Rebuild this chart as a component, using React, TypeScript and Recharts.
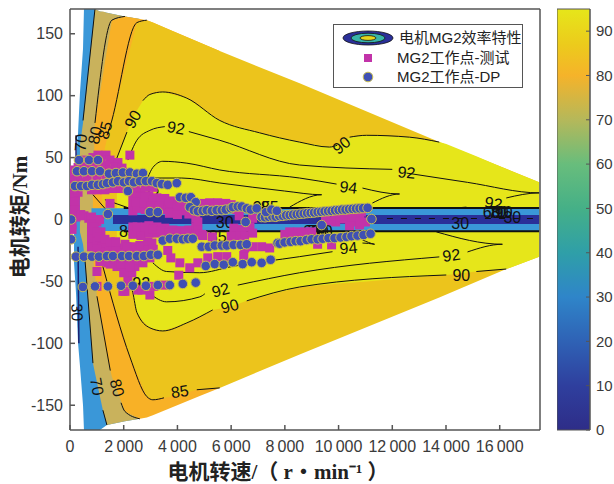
import {
  Area,
  Bar,
  ComposedChart,
  Legend,
  Line,
  Scatter,
  XAxis,
  YAxis
} from "recharts";

// filled bands, each row is [speed, lower torque, upper torque]
const blueBand = [
  [150, -35, 40], [225, -60, 48], [300, -100, 70], [370, -118, 102], [485, -150, 138],
  [520, -170, 170], [930, -170, 170], [1115, -170, 168], [1375, -166, 167], [2045, -163, 164],
  [2600, -161, 162]
];
const khakiBand = [
  [370, -10, 60], [485, -20, 78], [560, -33, 93], [635, -55, 108], [855, -116, 154],
  [930, -124, 170], [1115, -143, 168], [1225, -154, 168], [1375, -166, 167], [2045, -163, 164],
  [2600, -161, 162]
];
const orangeBand = [
  [855, -30, 24], [930, -45, 78], [1004, -62, 88], [1115, -75, 102], [1300, -102, 127],
  [1560, -127, 161], [2045, -155, 164], [2600, -161, 162], [2860, -160, 161], [3085, -158, 159],
  [4830, -142.6, 143], [5575, -136, 136]
];
const amberBand = [
  [1190, -30, 24], [1225, -38, 35], [1300, -45, 58], [1490, -57, 75], [2230, -111, 137],
  [2490, -124, 159], [2860, -143, 161], [3085, -145.6, 159], [3790, -143, 152.5], [4720, -137.5, 144],
  [5575, -136, 136], [8550, -109, 110], [13750, -63, 62.5], [16245, -40, 41], [17470, -30, 30]
];
const yellowBand = [
  [1745, -30, 49.6], [2120, -50, 70.6], [2340, -59, 82], [2490, -75, 88], [2715, -82, 96],
  [2975, -87.5, 101], [3455, -90, 103], [4350, -83.5, 98], [5315, -73, 84], [5575, -72, 80],
  [5950, -70.6, 77], [6580, -65.7, 73], [7060, -63, 70], [8550, -54.5, 62.5], [9660, -52.5, 58.5],
  [10110, -51.5, 61], [10410, -51, 66.5], [11040, -50, 68], [12640, -47, 66.5], [13750, -45, 62.5],
  [14010, -44.8, 61], [15130, -42, 51], [16245, -40, 40.7], [17470, -30, 30]
];
const stripBlue = [[800, -9.2, 9], [17470, -9.2, 9]];
const stripNavy = [[1600, -3.6, 3.6], [17470, -3.6, 3.6]];

// contour lines, split where a label sits on them
const contourLines = [
  [[930, 170], [485, 80]],
  [[560, -33], [855, -116]],
  [[1225, -154], [1375, -166]],
  [[2045, 164], [1560, 161], [930, 78]],
  [[1004, -62], [1500, -122]],
  [[1900, -148], [2045, -155], [2600, -161]],
  [[2860, 161], [2490, 159], [1490, 75], [1380, 68]],
  [[1225, -38], [2230, -111], [2860, -143], [3085, -145.6], [3500, -144]],
  [[4720, -137.5], [5575, -136]],
  [[1745, 49.6], [2120, 70.6]],
  [[2715, 96], [2975, 101], [3455, 103], [4350, 98], [5575, 80], [7060, 70], [8550, 62.5], [9660, 58.5], [9950, 60]],
  [[10410, 66.5], [11040, 68], [12640, 66.5], [13750, 62.5]],
  [[1860, -34], [2340, -59], [2490, -75], [2975, -87.5], [3455, -90], [4350, -83.5], [5315, -73]],
  [[6580, -65.7], [8550, -54.5], [14010, -44.8]],
  [[15130, -42], [16245, -40]],
  [[2155, 48], [2490, 64], [2975, 72], [3530, 75]],
  [[4425, 71], [5575, 64], [8550, 44], [12000, 40.5]],
  [[12530, 37.5], [14800, 30], [17470, 21.5], [16245, 17.4]],
  [[14760, 10], [14200, 9]],
  [[2900, 34], [3085, 42], [3455, 47], [4350, 45.5], [5575, 40], [8550, 33.5], [9925, 28.6]],
  [[10890, 25.4], [12270, 20.6], [11260, 13.3]],
  [[2975, 33.5], [4160, 33.5], [5575, 29.5], [7990, 23], [9370, 20], [8180, 10]],
  [[2975, -60], [3600, -66.5], [4830, -62.5], [5020, -60]],
  [[6245, -53], [8550, -43], [13750, -30.2]],
  [[14800, -26.2], [16100, -20], [13640, -10]],
  [[3085, -35], [3600, -42], [4830, -43], [6020, -38], [8550, -30], [9775, -26]],
  [[10890, -19], [11340, -20], [10890, -16.5]],
  [[855, 20], [1300, 9]],
  [[1300, 16], [2230, 9]]
];
const stripLines = [
  [[2000, 9.3], [17470, 9.3]],
  [[2000, -9.4], [17470, -9.4]]
];
const navyEdges = [
  [[300, -22], [330, -100]],
  [[225, 50], [225, 68]]
];
const dashedCentre = [[11800, 0.8], [17470, 0.8]];

// [speed, torque, text, rotation]
const contourLabels = [
  [400, 62, "70", -85], [930, 68, "80", -80], [1300, 72, "85", -75], [2340, 81, "90", -60],
  [3950, 74, "92", 10], [10110, 60, "90", -40], [12530, 38, "92", 5], [10370, 26, "94", 7],
  [15770, 13, "92", 10], [10370, -23, "94", -5], [14200, -29, "92", -8], [14570, -45, "90", 0],
  [14530, -3.6, "30", 0], [16470, 2, "30", 0], [5760, -2.8, "30", 0], [260, -75, "30", 88],
  [1004, -135, "70", 80], [1750, -136, "80", 75], [4090, -139, "85", -8], [5950, -70, "90", -15],
  [5610, -57, "92", -15], [2155, -10, "85", 0], [5500, -14, "85", 0], [7435, 10, "85", 0],
  [7135, 10, "95", 0], [15700, 6, "60", 0], [15900, 6, "70", 0], [16000, 6, "80", 0],
  [16150, 6, "90", 0], [9000, -10, "60", 0], [9150, -10, "70", 0], [9300, -10, "80", 0],
  [9450, -10, "90", 0], [2650, -52, "92", 0], [3000, 20, "92", 0]
];

// MG2 operating points, test
const testPoints = [
  [1040, 52], [1340, 52], [855, 50], [560, 48], [1150, 48], [1490, 48], [1785, 46], [1340, 44],
  [1670, 42], [1935, 41.5], [2080, 38], [2230, 52], [300, 42], [560, 42], [860, 43], [300, 34],
  [640, 34], [1000, 34], [1340, 34], [1700, 33], [2100, 30], [2400, 31], [75, 40], [75, 33],
  [75, 26], [75, 20], [75, 14], [75, 8], [75, 2], [75, -4], [75, -8], [200, 20], [300, 22],
  [200, 14], [200, 8], [225, 2], [400, 4], [520, 3], [700, 1], [800, 2], [1000, -2], [1100, 0],
  [1490, 13], [800, -4], [800, -10], [800, -16], [800, -22], [1000, -18], [1150, -10], [1200, -22],
  [1400, -22], [1600, -24], [1700, -22], [2000, -23], [2045, -20], [2300, -22], [2490, -25], [2600, -21],
  [2650, -22], [2900, -18], [2900, -20], [1100, -26], [1410, -35], [1750, -38], [2045, -41], [2300, -43],
  [2415, -38], [2715, -35], [2975, -31], [2155, -50], [1970, -58], [2530, -57], [2975, -61], [3120, -54],
  [3530, -53], [1004, -54], [1004, -42], [1860, -34], [1115, -34], [1600, -35], [2155, -34], [2045, -58],
  [2676, -57], [3640, -25], [3755, -31], [4090, -35], [4460, -39], [4050, -45], [4760, -35], [5130, -31],
  [5500, -30], [5835, -30], [6470, -29], [6505, -23], [6800, -22], [7135, -22], [7435, -23], [3050, -19],
  [2120, -22], [2340, 20], [2340, 13], [2340, 7], [2340, -6], [2340, -12], [2640, 22], [2640, 16],
  [2640, 11], [2640, -8], [2640, -13], [2935, 19], [2935, 14], [2935, -5], [2935, -11], [3235, 17.5],
  [3235, 13], [3235, -6], [3235, -11], [3530, 17], [3530, 12], [3530, -7], [3530, -11], [3830, 15],
  [3830, 9], [3830, -8.5], [3830, -12], [4125, 12.5], [4125, 7], [4125, -9], [4125, -13], [4425, 11],
  [4425, 4.4], [4425, -8.5], [4425, -13], [4685, 7], [4685, 1], [4685, -6], [4685, -12], [4760, -2],
  [4760, -8.5], [4900, -12], [4905, 13], [5200, 13.5], [5500, 13.5], [5800, 13], [6000, 12], [6100, -7],
  [6400, -8], [6700, -6], [6200, -13], [6500, -13], [6000, -13.5], [6800, -11], [6300, 3], [6800, 1],
  [4950, -13], [5300, -14], [8180, -10], [8475, -10], [8770, -10], [9890, -2], [10185, 0.4], [10480, -2],
  [10780, 1], [11000, -2], [10780, -4.4], [10410, -5], [9220, -20], [9740, -20.5], [10035, 4.4], [10480, 5],
  [10850, 6], [9515, 0], [860, 46], [1150, 42], [1500, 40], [1800, 38], [1100, 38], [1400, 36],
  [1900, 34], [2200, 35], [2500, 33], [300, 28], [600, 30], [800, 24], [1000, 24], [1300, 24],
  [1600, 25], [1900, 25], [2150, 26], [2450, 26], [2800, 26], [3100, 26], [2500, 18], [2800, 18],
  [3100, 16], [3400, 15], [3700, 13], [4000, 10], [4300, 8], [2500, 9], [2800, 8], [3100, 8],
  [3400, 8], [3700, 5], [4000, 4], [2500, -6], [2800, -6], [3100, -8], [3400, -9], [3700, -11],
  [4000, -11], [4300, -11], [900, -6], [1000, -10], [1100, -14], [1300, -16], [1500, -18], [1700, -18],
  [1000, -24], [1300, -27], [1700, -27], [2100, -27], [2500, -27], [2900, -25], [3100, -24], [1300, -33],
  [1500, -36], [1900, -36], [2200, -37], [2400, -33], [2700, -32], [2000, -43], [2250, -38], [9900, 2],
  [10200, 3], [10500, 2], [10800, -2], [9700, -1], [8000, -12], [8300, -12], [8600, -12], [9000, -10],
  [5000, 9], [5400, 10], [5800, 9], [6200, 8], [2450, 14], [2750, 13], [3000, 11], [3300, 11]
];

// MG2 operating points, DP
const dpPoints = [
  [335, 48], [706, 48], [1040, 48], [260, 39], [520, 39], [820, 39], [1115, 39], [1450, 37],
  [1710, 37.5], [1970, 38], [2230, 38], [2490, 37], [2715, 37.5], [185, 27], [410, 27], [630, 27],
  [820, 28], [1040, 28], [1225, 28.6], [1375, 29.4], [1600, 30], [1785, 31], [2005, 30], [2195, 31],
  [2380, 30], [2600, 31], [2825, 31], [3050, 31], [3230, 29.4], [3420, 28.6], [3640, 28], [3975, 29.4],
  [2155, 23], [4090, 18], [4310, 17.5], [4500, 18], [4680, 14], [4460, 10], [4610, 7.5], [4760, 6.7],
  [4940, 7], [5090, 7.5], [5280, 7], [5460, 7.5], [5650, 7.5], [5800, 8], [5985, 9], [6060, 10],
  [6245, 10.5], [6395, 10.5], [6580, 9], [6730, 8], [6950, 9], [7130, 2], [7260, 1.8], [7400, 2.2],
  [7530, 2.5], [7660, 2.2], [7790, 2.8], [7920, 3], [8050, 3.4], [8180, 3.6], [8310, 4], [8440, 4.2],
  [8570, 4.6], [8700, 4.8], [8830, 5.2], [8960, 5.4], [9090, 5.6], [9220, 6], [9350, 6.2], [9480, 6.6],
  [9610, 6.8], [9740, 7], [9870, 7.4], [10000, 7.6], [10130, 8], [10260, 8], [10390, 8.4], [10520, 8.6],
  [10650, 8.8], [10780, 9], [10910, 9.2], [11080, 9.4], [7300, 6], [7500, 8], [7700, 7], [40, 0],
  [40, -16], [1410, 4.4], [2975, 6], [3270, 6], [6540, -2], [9370, -4.5], [11225, 0.4], [3455, -17],
  [3715, -15.5], [3975, -15.5], [4200, -16], [4385, -15.5], [4570, -15.5], [4905, -22], [5165, -22], [5390, -21],
  [5650, -21], [5835, -21], [6095, -20.5], [6355, -20.5], [6580, -20], [7730, -19], [7805, -19.5], [7990, -18.5],
  [8215, -18], [8400, -17.5], [8585, -17.5], [8810, -16.5], [8995, -16], [9220, -16], [9405, -15.5], [9625, -15],
  [9850, -15], [10075, -14.5], [10295, -14], [10480, -13.5], [10705, -13], [10930, -12.5], [11190, -11.5], [220, -30],
  [520, -30], [820, -30], [1075, -30], [1375, -29.5], [1600, -29.5], [1935, -29.5], [2195, -29.5], [2490, -29.5],
  [2750, -29.5], [3010, -28.5], [3270, -28.5], [5055, -37.5], [5390, -36], [5725, -36.5], [6060, -34.5], [6430, -36],
  [6765, -34.5], [7135, -35], [7470, -32.5], [480, -54.5], [930, -54], [1410, -54], [1900, -53.5], [2340, -53.5],
  [2825, -53.5], [3270, -53], [3715, -53], [4200, -52], [4680, -51]
];

const speedTicks = [0, 2000, 4000, 6000, 8000, 10000, 12000, 14000, 16000];
const torqueTicks = [-150, -100, -50, 0, 50, 100, 150];
const colorbarTicks = [0, 10, 20, 30, 40, 50, 60, 70, 80, 90];
const colorbarStops = [
  [0, "#2e2d88"], [10, "#2f3f9e"], [20, "#2f62b5"], [30, "#2f85c9"], [40, "#2f9fa8"],
  [50, "#45b087"], [60, "#68bd7c"], [70, "#b5b85a"], [80, "#f5b32a"], [87, "#eccb1c"], [95, "#e6e61a"]
];
const legendItems = ["电机MG2效率特性", "MG2工作点-测试", "MG2工作点-DP"];

const SANS = '"Liberation Sans", "Noto Sans CJK SC", sans-serif';
const SERIF = '"Liberation Serif", "Noto Sans CJK SC", serif';
const AXIS_COLOR = "#555555";
const TICK_COLOR = "#3a3a3a";
const MAGENTA = "#c233a9";
const DP_BLUE = "#3f50b4";
const DP_EDGE = "#c9bd4e";

const toBand = (rows: number[][]) => rows.map(([x, lo, hi]) => ({ x, range: [lo, hi] }));
const toPoints = (rows: number[][]) => rows.map(([x, y]) => ({ x, y }));

const formatSpeed = (v: number) =>
  v >= 1000 ? `${Math.floor(v / 1000)}\u2009${String(v % 1000).padStart(3, "0")}` : String(v);

function band(rows: number[][], fill: string, key: string) {
  return (
    <Area
      key={key}
      data={toBand(rows)}
      dataKey="range"
      type="linear"
      fill={fill}
      fillOpacity={1}
      stroke="none"
      dot={false}
      activeDot={false}
      isAnimationActive={false}
      legendType="none"
    />
  );
}

function contour(rows: number[][], key: string, color = "#111111", width = 1, dash?: string) {
  return (
    <Line
      key={key}
      data={toPoints(rows)}
      dataKey="y"
      type="monotoneX"
      stroke={color}
      strokeWidth={width}
      strokeDasharray={dash}
      dot={false}
      activeDot={false}
      isAnimationActive={false}
      legendType="none"
    />
  );
}

function ContourLabel(p: any) {
  const { text, angle } = p.payload;
  return (
    <text
      x={p.cx}
      y={p.cy}
      dy={5.5}
      textAnchor="middle"
      fontFamily={SANS}
      fontSize={16}
      fill="#111111"
      transform={`rotate(${angle} ${p.cx} ${p.cy})`}
    >
      {text}
    </text>
  );
}

function LegendBox() {
  const row = { position: "absolute", whiteSpace: "nowrap", lineHeight: "20px" } as const;
  return (
    <div
      style={{
        position: "relative",
        width: 190,
        height: 64,
        background: "#ffffff",
        border: `1px solid ${AXIS_COLOR}`,
        boxSizing: "border-box",
        fontFamily: SANS,
        fontSize: 15,
        color: "#222222"
      }}
    >
      <svg width={190} height={64} style={{ position: "absolute", left: 0, top: 0 }}>
        <ellipse cx={34} cy={13} rx={25} ry={7} fill="#2a2f99" stroke="#111111" strokeWidth={0.8} />
        <ellipse cx={34} cy={13} rx={17} ry={4.8} fill="#38b5a8" stroke="#111111" strokeWidth={0.8} />
        <ellipse cx={34} cy={13} rx={8} ry={2.4} fill="#e6d61a" stroke="#111111" strokeWidth={0.8} />
        <rect x={30} y={29} width={8} height={8} fill={MAGENTA} />
        <circle cx={34} cy={52} r={4.8} fill={DP_BLUE} stroke={DP_EDGE} />
      </svg>
      <span style={{ ...row, left: 65, top: 3 }}>{legendItems[0]}</span>
      <span style={{ ...row, left: 63, top: 23 }}>{legendItems[1]}</span>
      <span style={{ ...row, left: 63, top: 42 }}>{legendItems[2]}</span>
    </div>
  );
}

function Colorbar() {
  return (
    <ComposedChart
      width={57}
      height={484}
      data={[{ name: "efficiency", value: 95 }]}
      margin={{ top: 0, right: 0, bottom: 0, left: 0 }}
      barCategoryGap={0}
      style={{ position: "absolute", left: 557, top: 0 }}
    >
      <defs>
        <linearGradient id="parula" x1="0" y1="1" x2="0" y2="0">
          {colorbarStops.map(([v, c]) => (
            <stop key={v} offset={(v as number) / 95} stopColor={c as string} />
          ))}
        </linearGradient>
      </defs>
      <XAxis dataKey="name" xAxisId={0} height={54} tick={false} tickLine={false} axisLine={false} />
      <XAxis dataKey="name" xAxisId="t" orientation="top" height={9} tick={false} tickLine={false} axisLine={false} />
      <YAxis
        orientation="right"
        domain={[0, 95]}
        ticks={colorbarTicks}
        width={24}
        tickSize={-4}
        tickMargin={10}
        interval={0}
        stroke={AXIS_COLOR}
        tick={{ fontFamily: SANS, fontSize: 15, fill: TICK_COLOR }}
      />
      <Bar dataKey="value" fill="url(#parula)" stroke={AXIS_COLOR} isAnimationActive={false} />
    </ComposedChart>
  );
}

export default function App() {
  const axisProps = { type: "number", stroke: AXIS_COLOR, strokeWidth: 1.5, allowDataOverflow: true, interval: 0 } as const;
  return (
    <div style={{ position: "absolute", left: 0, top: 0, width: 614, height: 484, background: "#ffffff" }}>
      <ComposedChart
        width={614}
        height={484}
        margin={{ top: 0, right: 0, bottom: 0, left: 0 }}
        style={{ position: "absolute", left: 0, top: 0 }}
      >
        <XAxis
          {...axisProps}
          dataKey="x"
          domain={[0, 17500]}
          ticks={speedTicks}
          tickFormatter={formatSpeed}
          height={54}
          tickSize={-5}
          tickMargin={16}
          tick={{ fontFamily: SANS, fontSize: 16, fill: TICK_COLOR }}
          label={(p: any) => (
            <text
              x={p.viewBox.x + p.viewBox.width / 2 - 27}
              y={479}
              textAnchor="middle"
              fontFamily={SERIF}
              fontSize={21}
              fontWeight="bold"
              fill="#222222"
            >
              电机转速/（ r・min⁻¹ ）
            </text>
          )}
        />
        <XAxis
          {...axisProps}
          xAxisId="top"
          dataKey="x"
          orientation="top"
          domain={[0, 17500]}
          ticks={speedTicks}
          height={9}
          tickSize={-5}
          tick={false}
        />
        <YAxis
          {...axisProps}
          dataKey="y"
          domain={[-170, 170]}
          ticks={torqueTicks}
          width={70}
          tickSize={-5}
          tickMargin={12}
          tick={{ fontFamily: SANS, fontSize: 16, fill: TICK_COLOR }}
          label={() => (
            <text
              x={20}
              y={217}
              textAnchor="middle"
              dominantBaseline="central"
              fontFamily={SERIF}
              fontSize={21}
              fontWeight="bold"
              fill="#222222"
              transform="rotate(-90 20 217)"
            >
              电机转矩/Nm
            </text>
          )}
        />
        <YAxis
          {...axisProps}
          yAxisId="right"
          dataKey="y"
          orientation="right"
          domain={[-170, 170]}
          ticks={torqueTicks}
          width={74}
          tickSize={-5}
          tick={false}
        />
        <Legend
          verticalAlign="middle"
          align="center"
          layout="horizontal"
          content={() => <LegendBox />}
          wrapperStyle={{ left: 333, top: 24, width: 191, height: 65, margin: 0 }}
        />

        {band(blueBand, "#3a97d8", "blue")}
        {band(khakiBand, "#c9b25c", "khaki")}
        {band(orangeBand, "#f8b126", "orange")}
        {band(amberBand, "#ecc41c", "amber")}
        {band(yellowBand, "#e6e61a", "yellow")}
        {band(stripBlue, "#3a97d8", "strip-blue")}
        {band(stripNavy, "#2a2f99", "strip-navy")}

        {contourLines.map((rows, i) => contour(rows, `c${i}`))}
        {stripLines.map((rows, i) => contour(rows, `s${i}`, "#111111", 2))}
        {navyEdges.map((rows, i) => contour(rows, `n${i}`, "#1c2070", 1.5))}
        {contour(dashedCentre, "dash", "#111111", 1, "6 8")}

        <Scatter
          data={contourLabels.map(([x, y, text, angle]) => ({ x, y, text, angle }))}
          shape={ContourLabel}
          isAnimationActive={false}
          legendType="none"
        />
        <Scatter
          data={toPoints(testPoints)}
          fill={MAGENTA}
          shape={(p: any) => <rect x={p.cx - 4.5} y={p.cy - 4.5} width={9} height={9} fill={MAGENTA} />}
          isAnimationActive={false}
          legendType="none"
        />
        <Scatter
          data={toPoints(dpPoints)}
          shape={(p: any) => <circle cx={p.cx} cy={p.cy} r={4.8} fill={DP_BLUE} stroke={DP_EDGE} strokeWidth={1} />}
          isAnimationActive={false}
          legendType="none"
        />
      </ComposedChart>
      <Colorbar />
    </div>
  );
}
